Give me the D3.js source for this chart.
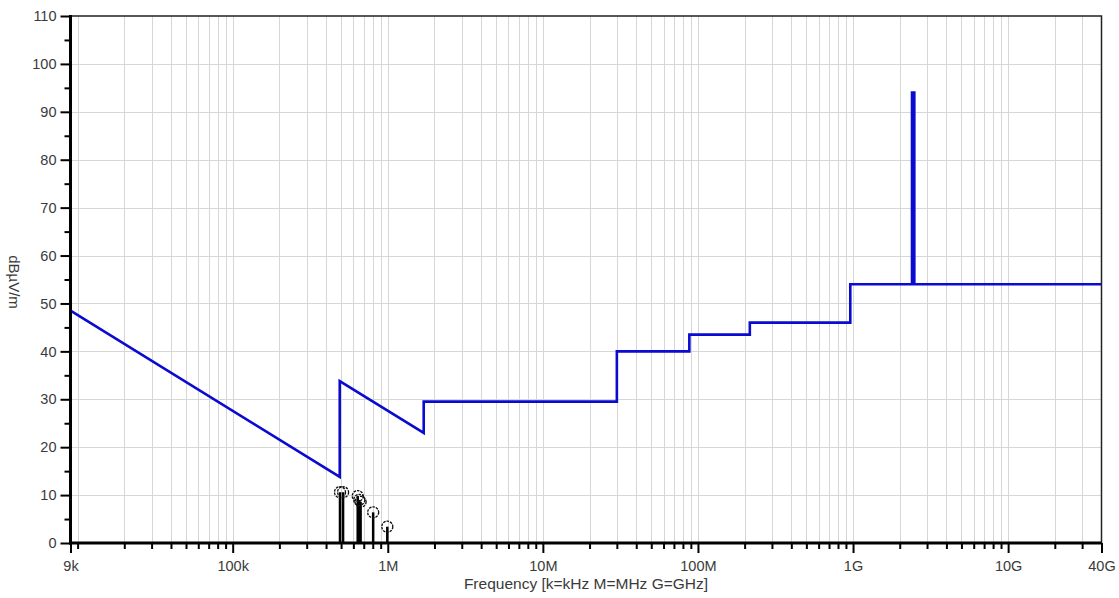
<!DOCTYPE html>
<html>
<head>
<meta charset="utf-8">
<script src="https://cdn.jsdelivr.net/npm/d3@7"></script>
<style>
  html, body { margin: 0; padding: 0; background: #ffffff; }
  svg { display: block; }
  text { font-family: "Liberation Sans", Arial, sans-serif; }
</style>
</head>
<body>
<svg id="chart" width="1119" height="598"></svg>
<script>
// ---- data ----
const limitFreq  = [9e3, 490e3, 490e3, 1.705e6, 1.705e6, 30e6, 30e6, 88e6, 88e6, 216e6, 216e6, 960e6, 960e6, 2.4e9, 2.4e9, 2.4835e9, 2.4835e9, 40e9];
const limitLevel = [48.5, 13.8, 33.8, 23.0, 29.5, 29.5, 40, 40, 43.5, 43.5, 46, 46, 54, 54, 94, 94, 54, 54];

const peakFreq  = [492e3, 515e3, 640e3, 655e3, 668e3, 805e3, 993e3];
const peakLevel = [10.6, 10.6, 9.8, 9.0, 8.6, 6.4, 3.4];

const xTickValues = [9e3, 1e5, 1e6, 1e7, 1e8, 1e9, 1e10, 4e10];
const xTickLabels = ["9k", "100k", "1M", "10M", "100M", "1G", "10G", "40G"];
const yTickValues = [0, 10, 20, 30, 40, 50, 60, 70, 80, 90, 100, 110];

const xTitle = "Frequency [k=kHz M=MHz G=GHz]";
const yTitle = "dBµV/m";

// ---- layout ----
const svg = d3.select("#chart");
const L = 70.5, R = 1101.5, T = 16, B = 543;

const x = d3.scaleLog().domain([9e3, 4e10]).range([L, R]);
const y = d3.scaleLinear().domain([0, 110]).range([B, T]);

// minor positions
const minorX = [];
for (let e = 3; e <= 10; e++) {
  for (let m = 1; m <= 9; m++) {
    const v = m * Math.pow(10, e);
    if (v > 9e3 && v <= 4e10) minorX.push(v);
  }
}
const minorY = d3.range(5, 110, 10);

// grid
const grid = svg.append("g");
grid.selectAll("line.gx").data(minorX.filter(v => v < 4e10)).join("line")
  .attr("x1", d => Math.round(x(d)) + 0.5).attr("x2", d => Math.round(x(d)) + 0.5)
  .attr("y1", T).attr("y2", B)
  .attr("stroke", "#d6d6d6").attr("stroke-width", 1);
grid.selectAll("line.gy").data(yTickValues.filter(v => v > 0 && v < 110)).join("line")
  .attr("x1", L).attr("x2", R)
  .attr("y1", d => Math.round(y(d)) + 0.5).attr("y2", d => Math.round(y(d)) + 0.5)
  .attr("stroke", "#d6d6d6").attr("stroke-width", 1);

// top / right frame
svg.append("path")
  .attr("d", `M${L},${T}H${R}V${B}`)
  .attr("fill", "none").attr("stroke", "#222").attr("stroke-width", 1.5);

// limit line
const line = d3.line().x((d, i) => x(limitFreq[i])).y((d, i) => y(limitLevel[i]));
svg.append("path")
  .attr("d", line(limitFreq))
  .attr("fill", "none").attr("stroke", "#0a0ad0").attr("stroke-width", 2.6)
  .attr("stroke-linejoin", "miter");

// peaks
const pk = svg.append("g");
pk.selectAll("line").data(peakFreq).join("line")
  .attr("x1", d => x(d)).attr("x2", d => x(d))
  .attr("y1", y(0)).attr("y2", (d, i) => y(peakLevel[i]))
  .attr("stroke", "#000").attr("stroke-width", 2.5);
pk.selectAll("circle").data(peakFreq).join("circle")
  .attr("cx", d => x(d)).attr("cy", (d, i) => y(peakLevel[i]))
  .attr("r", 5.5)
  .attr("fill", "none").attr("stroke", "#111").attr("stroke-width", 1.3)
  .attr("stroke-dasharray", "2.5 1");

// axes
const xAxisMajor = d3.axisBottom(x).tickValues(xTickValues).tickSize(10)
  .tickFormat((d, i) => xTickLabels[i]).tickSizeOuter(0);
const xAxisMinor = d3.axisBottom(x).tickValues(minorX.filter(v => !xTickValues.includes(v)))
  .tickSize(6).tickFormat("").tickSizeOuter(0);

const gxMinor = svg.append("g").attr("transform", `translate(0,${B})`).call(xAxisMinor);
const gx = svg.append("g").attr("transform", `translate(0,${B})`).call(xAxisMajor);
[gx, gxMinor].forEach(g => {
  g.select(".domain").remove();
  g.selectAll(".tick line").attr("stroke", "#000").attr("stroke-width", 2);
});
gx.selectAll(".tick text")
  .attr("fill", "#3a3a3a").attr("font-size", 14.5).attr("dy", "0.8em").attr("y", 16);

const yAxisMajor = d3.axisLeft(y).tickValues(yTickValues).tickSize(10).tickSizeOuter(0)
  .tickFormat(d3.format("d"));
const yAxisMinor = d3.axisLeft(y).tickValues(minorY).tickSize(6).tickFormat("").tickSizeOuter(0);
const gyMinor = svg.append("g").attr("transform", `translate(${L},0)`).call(yAxisMinor);
const gy = svg.append("g").attr("transform", `translate(${L},0)`).call(yAxisMajor);
[gy, gyMinor].forEach(g => {
  g.select(".domain").remove();
  g.selectAll(".tick line").attr("stroke", "#000").attr("stroke-width", 2);
});
gy.selectAll(".tick text")
  .attr("fill", "#3a3a3a").attr("font-size", 14.5).attr("x", -14);

// thick axis lines
svg.append("line").attr("x1", L).attr("x2", L).attr("y1", T - 1).attr("y2", B + 1.5)
  .attr("stroke", "#000").attr("stroke-width", 3);
svg.append("line").attr("x1", L - 1.5).attr("x2", R).attr("y1", B).attr("y2", B)
  .attr("stroke", "#000").attr("stroke-width", 3);

// titles
svg.append("text")
  .attr("x", 586).attr("y", 589)
  .attr("text-anchor", "middle").attr("font-size", 15.5).attr("fill", "#3a3a3a")
  .text(xTitle);
svg.append("text")
  .attr("transform", `translate(9,282) rotate(90)`)
  .attr("text-anchor", "middle").attr("font-size", 15).attr("fill", "#3a3a3a")
  .text(yTitle);
</script>
</body>
</html>
